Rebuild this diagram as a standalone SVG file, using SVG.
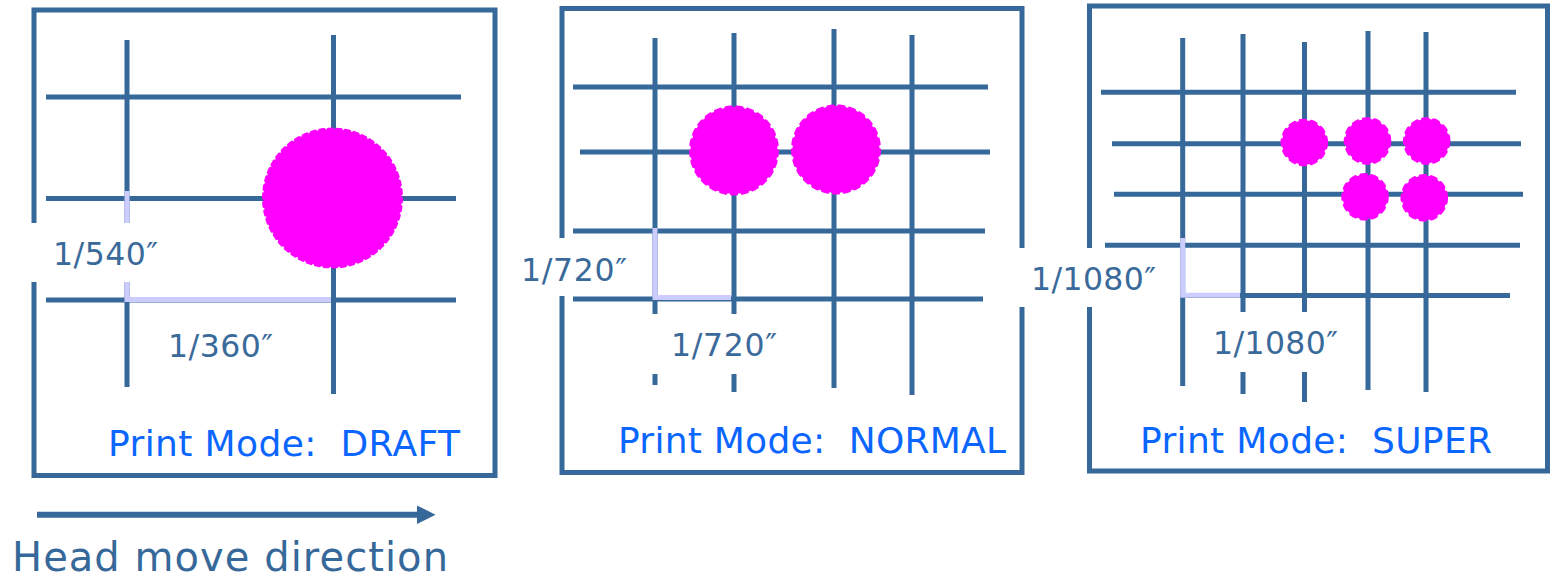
<svg xmlns="http://www.w3.org/2000/svg" width="1550" height="576" viewBox="0 0 1550 576">
<defs>
<style>
.frame{fill:none;stroke:#36699a;stroke-width:5}
.grid{stroke:#36699a;stroke-width:5;fill:none}
.dim{stroke:#ccccff;stroke-width:5;fill:none;stroke-linejoin:miter}
.dot{fill:#ff00ff;stroke:#ff00ff;stroke-linecap:round}
.mask{fill:#ffffff;stroke:none}
.lbl{font-family:"DejaVu Sans","Liberation Sans",sans-serif;font-size:31.5px;fill:#3a6a9a}
.mode{font-family:"DejaVu Sans","Liberation Sans",sans-serif;font-size:36px;fill:#0a66ff;white-space:pre}
.cap{font-family:"DejaVu Sans","Liberation Sans",sans-serif;font-size:40px;fill:#36699a}
</style>
<marker id="ah" viewBox="0 0 10 10" refX="0" refY="5" markerWidth="3.1" markerHeight="3.1" orient="auto" markerUnits="strokeWidth">
<path d="M0,0 L10,5 L0,10 Z" fill="#36699a"/>
</marker>
</defs>
<rect width="1550" height="576" fill="#ffffff"/>

<g id="panel-draft">
<rect class="frame" x="34" y="10" width="461" height="465.5"/>
<path class="grid" d="M127,40V387 M333.5,35V394 M46,97H461 M46,198.5H456 M46,300H456"/>
<polyline class="dim" points="127,191 127,299.5 331,299.5"/>
<circle class="dot" cx="332.5" cy="198" r="69" stroke-width="3" pathLength="100" stroke-dasharray="1 1"/>
<rect class="mask" x="26" y="223" width="110" height="59"/>
<text class="lbl" x="53" y="265" textLength="105" lengthAdjust="spacing">1/540″</text>
<text class="lbl" x="168" y="357" textLength="105" lengthAdjust="spacing">1/360″</text>
<text class="mode" x="108" y="455.5" textLength="352" lengthAdjust="spacing">Print Mode:  DRAFT</text>
</g>

<g id="panel-normal">
<rect class="frame" x="562" y="8.5" width="460" height="464"/>
<path class="grid" d="M655,38V385 M734,33V392 M834,29V388 M912,35V395 M573,87H988 M580,152H990 M573,231H985 M573,299H983"/>
<polyline class="dim" points="655,228 655,297.5 731,297.5"/>
<circle class="dot" cx="734" cy="150.5" r="43.5" stroke-width="3" pathLength="100" stroke-dasharray="2 2"/>
<circle class="dot" cx="836" cy="149.5" r="43.5" stroke-width="3" pathLength="100" stroke-dasharray="2 2"/>
<rect class="mask" x="545" y="238" width="100" height="58"/>
<rect class="mask" x="642" y="314" width="140" height="60"/>
<text class="lbl" x="521" y="281" textLength="106" lengthAdjust="spacing">1/720″</text>
<text class="lbl" x="671" y="356" textLength="106" lengthAdjust="spacing">1/720″</text>
<text class="mode" x="618" y="452.5" textLength="388" lengthAdjust="spacing">Print Mode:  NORMAL</text>
</g>

<g id="panel-super">
<rect class="frame" x="1089.5" y="6" width="458" height="465"/>
<path class="grid" d="M1182.7,38V386 M1243,34V394 M1304.5,42V402 M1368,31V390 M1426,32V392 M1101,92.3H1516 M1112,143.7H1521 M1114,194.3H1523 M1105,245.3H1520 M1180,295.5H1510"/>
<polyline class="dim" points="1182.7,238 1182.7,295.3 1240,295.3"/>
<circle class="dot" cx="1304.3" cy="142.5" r="22.3" stroke-width="3" pathLength="100" stroke-dasharray="4 4"/>
<circle class="dot" cx="1367.5" cy="141" r="22.3" stroke-width="3" pathLength="100" stroke-dasharray="4 4"/>
<circle class="dot" cx="1426.7" cy="141" r="22.3" stroke-width="3" pathLength="100" stroke-dasharray="4 4"/>
<circle class="dot" cx="1365" cy="196.8" r="22.3" stroke-width="3" pathLength="100" stroke-dasharray="4 4"/>
<circle class="dot" cx="1424.3" cy="197.8" r="22.3" stroke-width="3" pathLength="100" stroke-dasharray="4 4"/>
<rect class="mask" x="1015" y="248" width="155" height="59"/>
<rect class="mask" x="1200" y="312" width="155" height="60"/>
<text class="lbl" x="1031" y="290" textLength="125" lengthAdjust="spacing">1/1080″</text>
<text class="lbl" x="1213" y="354" textLength="125" lengthAdjust="spacing">1/1080″</text>
<text class="mode" x="1140" y="452.5" textLength="352" lengthAdjust="spacing">Print Mode:  SUPER</text>
</g>

<g id="connectors">
<line x1="37" y1="514.7" x2="417" y2="514.7" stroke="#36699a" stroke-width="6" marker-end="url(#ah)"/>
</g>
<g id="caption">
<text class="cap" x="12" y="571" textLength="436" lengthAdjust="spacing">Head move direction</text>
</g>
</svg>
